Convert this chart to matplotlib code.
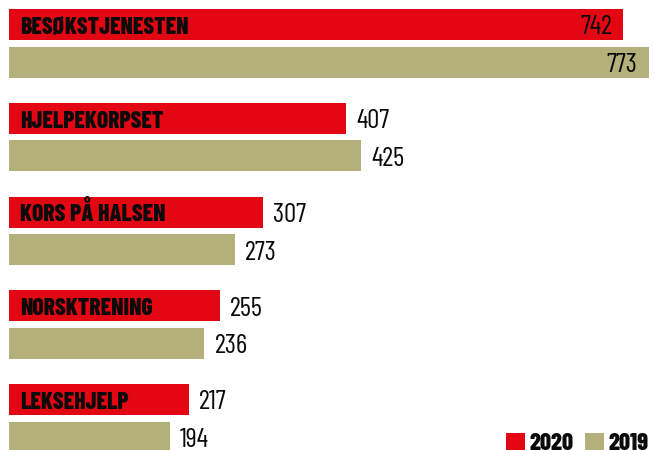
import matplotlib
matplotlib.use("Agg")
import matplotlib.pyplot as plt
from matplotlib.patches import Rectangle

# data
categories = ["BESØKSTJENESTEN", "HJELPEKORPSET", "KORS PÅ HALSEN", "NORSKTRENING", "LEKSEHJELP"]
values_2020 = [742, 407, 307, 255, 217]
values_2019 = [773, 425, 273, 236, 194]
years = ["2020", "2019"]

red = "#e30613"
tan = "#b3b07c"
font = "Barlow Condensed"

fig = plt.figure(figsize=(6.54, 4.5), dpi=100)
ax = fig.add_axes([0, 0, 1, 1])

# pixel geometry: group pitch 93.75 px, bar 31 px, 2019 bar 37.7 px lower
pitch = 93.75
off = 37.7 / pitch
h = 31 / pitch
pos = list(range(len(categories)))

ax.barh(pos, values_2020, height=h, color=red, align="center")
ax.barh([p + off for p in pos], values_2019, height=h, color=tan, align="center")

px = 0.828  # pixels per unit
ax.set_xlim(-9 / px, (654 - 9) / px)
ax.set_ylim((450 - 24.5) / pitch, -24.5 / pitch)
ax.axis("off")

for p, name in zip(pos, categories):
    ax.annotate(name, xy=(0, p), xytext=(11, -9.3), textcoords="offset pixels",
                ha="left", va="baseline", fontsize=17, fontweight=800,
                family=font, color="#0a0a0a")

def value_label(v, y):
    if v > 700:
        ax.annotate(str(v), xy=(v, y), xytext=(-11.5, -9.8), textcoords="offset pixels",
                    ha="right", va="baseline", fontsize=19.5, family=font, color="#0a0a0a")
    else:
        ax.annotate(str(v), xy=(v, y), xytext=(10, -9.8), textcoords="offset pixels",
                    ha="left", va="baseline", fontsize=19.5, family=font, color="#0a0a0a")

for p, v in zip(pos, values_2020):
    value_label(v, p)
for p, v in zip(pos, values_2019):
    value_label(v, p + off)

# legend
W, H = 654, 450
for x0, x1, tx, c, lab in [(506, 525, 529, red, years[0]), (585, 604, 608.5, tan, years[1])]:
    fig.add_artist(Rectangle((x0 / W, 0), (x1 - x0) / W, 17 / H, transform=fig.transFigure,
                             color=c, lw=0))
    fig.text(tx / W, 0.5 / H, lab, ha="left", va="baseline", fontsize=17.5,
             fontweight=800, family=font, color="#0a0a0a")

fig.savefig("out.png", dpi=100)
